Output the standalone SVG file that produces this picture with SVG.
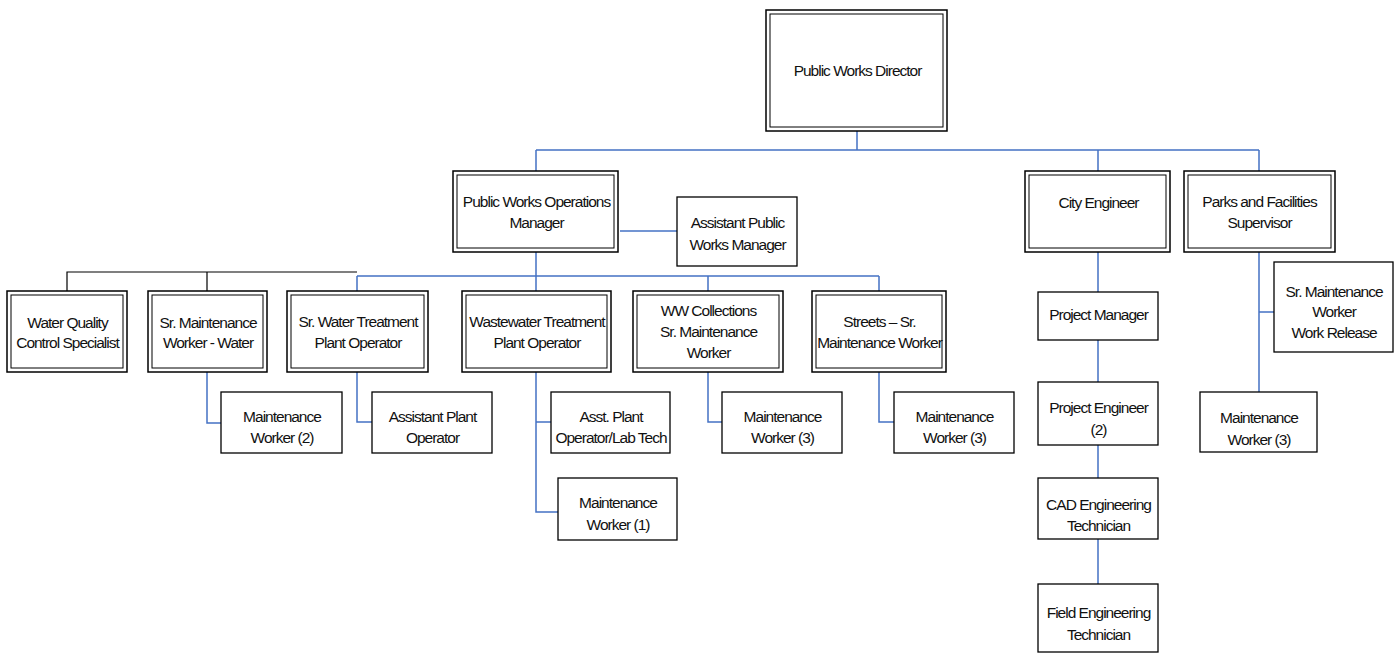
<svg xmlns="http://www.w3.org/2000/svg" width="1395" height="654" viewBox="0 0 1395 654">
  <style>
    .bg { fill: #ffffff; }
    .outer { fill: #ffffff; stroke: #000000; stroke-width: 1.5; }
    .inner { fill: none; stroke: #000000; stroke-width: 1; }
    .box { fill: #ffffff; stroke: #000000; stroke-width: 1.3; }
    .lbl { font-family: "Liberation Sans", Arial, sans-serif; font-size: 15.5px; letter-spacing: -1px; fill: #111111; text-anchor: middle; }
    .link { fill: none; stroke: #4472C4; stroke-width: 1.5; }
    .bracket { fill: none; stroke: #000000; stroke-width: 1.2; }
  </style>
  <rect class="bg" x="0" y="0" width="1395" height="654"/>

  <!-- reporting lines -->
  <g id="connectors">
    <path class="link" d="M857,131 V150 M536,150 H1259 M536,150 V171 M1098,150 V171 M1259,150 V171"/>
    <path class="link" d="M620,231 H677"/>
    <path class="link" d="M536,252 V291 M357,276 H879 M357,276 V291 M708,276 V291 M879,276 V291"/>
    <path class="bracket" d="M67,291 V272 H357 M207,272 V291"/>
    <path class="link" d="M207,372 V423 H221"/>
    <path class="link" d="M357,372 V422 H372"/>
    <path class="link" d="M536,372 V512 H558 M536,422 H551"/>
    <path class="link" d="M708,372 V422 H722"/>
    <path class="link" d="M879,372 V422 H894"/>
    <path class="link" d="M1098,252 V292 M1098,340 V382 M1098,445 V478 M1098,539 V584"/>
    <path class="link" d="M1259,252 V392 M1259,312 H1274"/>
  </g>

  <!-- double-bordered positions -->
  <g id="director">
    <rect class="outer" x="766" y="10" width="181" height="121"/>
    <rect class="inner" x="770" y="14" width="173" height="113"/>
    <text class="lbl" x="857.5" y="76">Public Works Director</text>
  </g>
  <g id="ops-manager">
    <rect class="outer" x="453" y="171" width="165" height="81"/>
    <rect class="inner" x="457" y="175" width="157" height="73"/>
    <text class="lbl" x="536.5" y="207">Public Works Operations</text>
    <text class="lbl" x="536.5" y="228">Manager</text>
  </g>
  <g id="city-engineer">
    <rect class="outer" x="1025" y="171" width="145" height="81"/>
    <rect class="inner" x="1029" y="175" width="137" height="73"/>
    <text class="lbl" x="1098.5" y="208">City Engineer</text>
  </g>
  <g id="parks-supervisor">
    <rect class="outer" x="1184" y="171" width="151" height="81"/>
    <rect class="inner" x="1188" y="175" width="143" height="73"/>
    <text class="lbl" x="1259.5" y="207">Parks and Facilities</text>
    <text class="lbl" x="1259.5" y="228">Supervisor</text>
  </g>
  <g id="water-quality">
    <rect class="outer" x="7" y="291" width="120" height="81"/>
    <rect class="inner" x="11" y="295" width="112" height="73"/>
    <text class="lbl" x="67.5" y="328">Water Quality</text>
    <text class="lbl" x="67.5" y="348">Control Specialist</text>
  </g>
  <g id="sr-maint-water">
    <rect class="outer" x="148" y="291" width="119" height="81"/>
    <rect class="inner" x="152" y="295" width="111" height="73"/>
    <text class="lbl" x="208" y="328">Sr. Maintenance</text>
    <text class="lbl" x="208" y="348">Worker - Water</text>
  </g>
  <g id="sr-water-treatment">
    <rect class="outer" x="287" y="291" width="141" height="81"/>
    <rect class="inner" x="291" y="295" width="133" height="73"/>
    <text class="lbl" x="358" y="327">Sr. Water Treatment</text>
    <text class="lbl" x="358" y="348">Plant Operator</text>
  </g>
  <g id="wastewater-treatment">
    <rect class="outer" x="462" y="291" width="149" height="81"/>
    <rect class="inner" x="466" y="295" width="141" height="73"/>
    <text class="lbl" x="537" y="327">Wastewater Treatment</text>
    <text class="lbl" x="537" y="348">Plant Operator</text>
  </g>
  <g id="ww-collections">
    <rect class="outer" x="633" y="291" width="150" height="81"/>
    <rect class="inner" x="637" y="295" width="142" height="73"/>
    <text class="lbl" x="708.5" y="316">WW Collections</text>
    <text class="lbl" x="708.5" y="337">Sr. Maintenance</text>
    <text class="lbl" x="708.5" y="358">Worker</text>
  </g>
  <g id="streets">
    <rect class="outer" x="812" y="291" width="134" height="81"/>
    <rect class="inner" x="816" y="295" width="126" height="73"/>
    <text class="lbl" x="879.5" y="327">Streets – Sr.</text>
    <text class="lbl" x="879.5" y="348">Maintenance Worker</text>
  </g>

  <!-- single-bordered positions -->
  <g id="asst-pw-manager">
    <rect class="box" x="677" y="197" width="120" height="69"/>
    <text class="lbl" x="737.5" y="228">Assistant Public</text>
    <text class="lbl" x="737.5" y="250">Works Manager</text>
  </g>
  <g id="maint-worker-2">
    <rect class="box" x="221" y="392" width="121" height="61"/>
    <text class="lbl" x="282" y="422">Maintenance</text>
    <text class="lbl" x="282" y="443">Worker (2)</text>
  </g>
  <g id="asst-plant-operator">
    <rect class="box" x="372" y="392" width="120" height="61"/>
    <text class="lbl" x="432.5" y="422">Assistant Plant</text>
    <text class="lbl" x="432.5" y="443">Operator</text>
  </g>
  <g id="asst-plant-lab">
    <rect class="box" x="551" y="392" width="119" height="61"/>
    <text class="lbl" x="611" y="422">Asst. Plant</text>
    <text class="lbl" x="611" y="443">Operator/Lab Tech</text>
  </g>
  <g id="maint-worker-1">
    <rect class="box" x="558" y="478" width="119" height="62"/>
    <text class="lbl" x="618" y="508">Maintenance</text>
    <text class="lbl" x="618" y="530">Worker (1)</text>
  </g>
  <g id="ww-maint-worker-3">
    <rect class="box" x="722" y="392" width="120" height="61"/>
    <text class="lbl" x="782.5" y="422">Maintenance</text>
    <text class="lbl" x="782.5" y="443">Worker (3)</text>
  </g>
  <g id="streets-maint-worker-3">
    <rect class="box" x="894" y="392" width="120" height="61"/>
    <text class="lbl" x="954.5" y="422">Maintenance</text>
    <text class="lbl" x="954.5" y="443">Worker (3)</text>
  </g>
  <g id="project-manager">
    <rect class="box" x="1038" y="292" width="120" height="48"/>
    <text class="lbl" x="1098.5" y="320">Project Manager</text>
  </g>
  <g id="project-engineer">
    <rect class="box" x="1038" y="382" width="120" height="63"/>
    <text class="lbl" x="1098.5" y="413">Project Engineer</text>
    <text class="lbl" x="1098.5" y="435">(2)</text>
  </g>
  <g id="cad-tech">
    <rect class="box" x="1038" y="478" width="120" height="61"/>
    <text class="lbl" x="1098.5" y="510">CAD Engineering</text>
    <text class="lbl" x="1098.5" y="531">Technician</text>
  </g>
  <g id="field-tech">
    <rect class="box" x="1038" y="584" width="120" height="68"/>
    <text class="lbl" x="1098.5" y="618">Field Engineering</text>
    <text class="lbl" x="1098.5" y="640">Technician</text>
  </g>
  <g id="sr-maint-work-release">
    <rect class="box" x="1274" y="262" width="119" height="90"/>
    <text class="lbl" x="1334" y="297">Sr. Maintenance</text>
    <text class="lbl" x="1334" y="317">Worker</text>
    <text class="lbl" x="1334" y="338">Work Release</text>
  </g>
  <g id="parks-maint-worker-3">
    <rect class="box" x="1200" y="392" width="117" height="60"/>
    <text class="lbl" x="1259" y="423">Maintenance</text>
    <text class="lbl" x="1259" y="445">Worker (3)</text>
  </g>
</svg>
